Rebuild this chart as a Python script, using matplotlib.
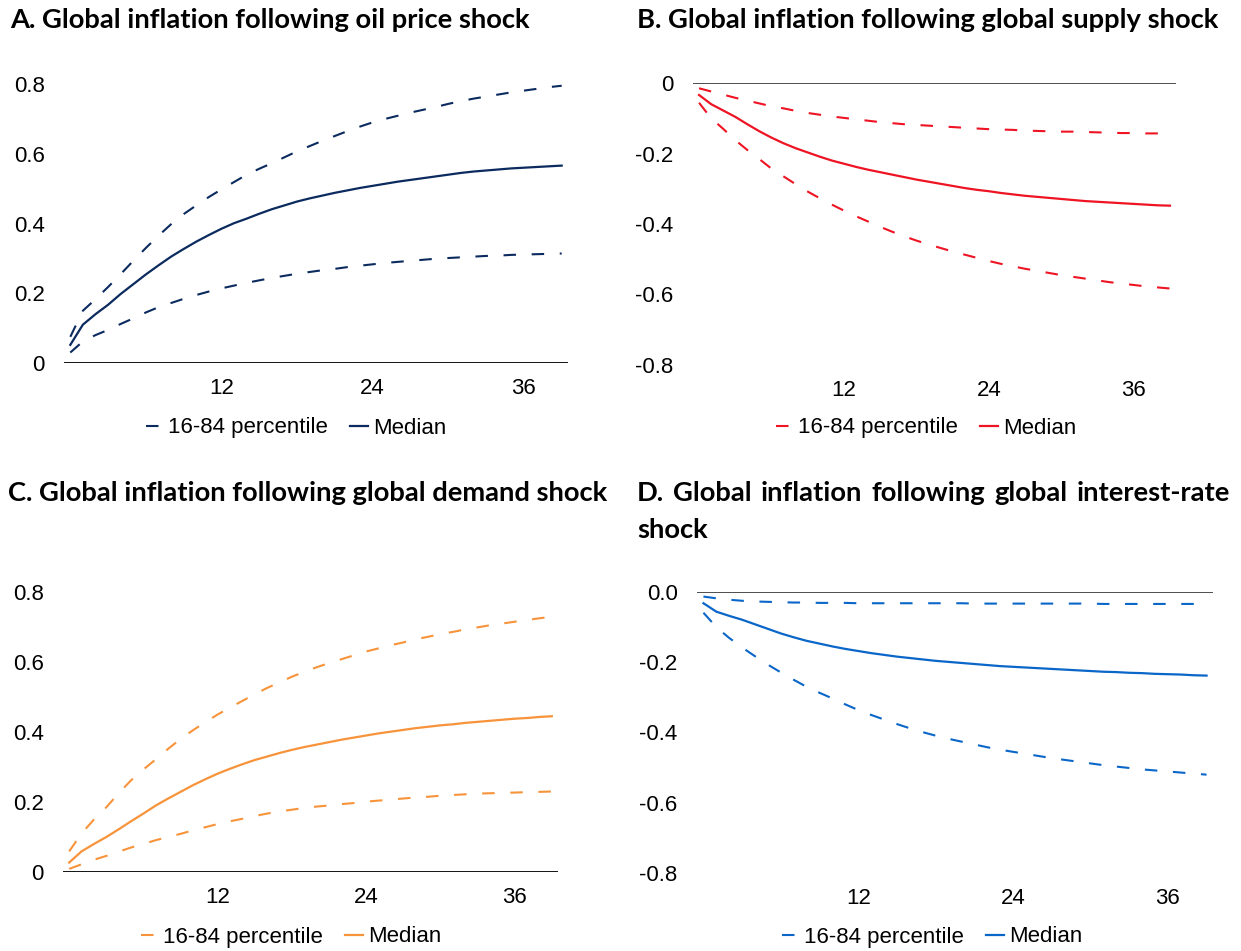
import numpy as np
import matplotlib.pyplot as plt
from matplotlib.lines import Line2D

plt.rcParams['font.family'] = ['Liberation Sans', 'DejaVu Sans']

months = list(range(40))

# A. oil price shock
oil_med = [0.052, 0.11, 0.14, 0.167, 0.198, 0.226, 0.254, 0.28, 0.305, 0.327,
           0.348, 0.367, 0.385, 0.401, 0.414, 0.428, 0.441, 0.452, 0.463, 0.472,
           0.48, 0.488, 0.495, 0.502, 0.508, 0.514, 0.52, 0.525, 0.53, 0.535,
           0.54, 0.545, 0.549, 0.552, 0.555, 0.558, 0.56, 0.562, 0.564, 0.566]
oil_hi = [0.075, 0.15, 0.183, 0.218, 0.255, 0.293, 0.33, 0.365, 0.398, 0.427,
          0.452, 0.476, 0.498, 0.519, 0.54, 0.557, 0.573, 0.59, 0.607, 0.622,
          0.637, 0.651, 0.665, 0.678, 0.69, 0.7, 0.709, 0.718, 0.726, 0.734,
          0.743, 0.751, 0.758, 0.764, 0.77, 0.776, 0.781, 0.786, 0.791, 0.795]
oil_lo = [0.03, 0.062, 0.08, 0.095, 0.112, 0.128, 0.145, 0.16, 0.172, 0.184,
          0.195, 0.205, 0.214, 0.222, 0.23, 0.237, 0.244, 0.25, 0.256, 0.261,
          0.266, 0.27, 0.275, 0.279, 0.283, 0.287, 0.29, 0.293, 0.296, 0.299,
          0.301, 0.303, 0.305, 0.307, 0.308, 0.31, 0.311, 0.312, 0.313, 0.314]

# B. global supply shock
sup_med = [-0.034, -0.06, -0.078, -0.096, -0.117, -0.137, -0.155, -0.171, -0.185, -0.197,
           -0.209, -0.22, -0.229, -0.238, -0.246, -0.253, -0.26, -0.267, -0.274, -0.28,
           -0.286, -0.292, -0.298, -0.303, -0.307, -0.312, -0.316, -0.32, -0.323, -0.326,
           -0.329, -0.332, -0.335, -0.337, -0.339, -0.341, -0.343, -0.345, -0.347, -0.348]
sup_hi = [-0.015, -0.024, -0.033, -0.042, -0.05, -0.058, -0.066, -0.072, -0.079, -0.085,
          -0.09, -0.095, -0.099, -0.103, -0.107, -0.111, -0.114, -0.117, -0.119, -0.121,
          -0.123, -0.125, -0.127, -0.129, -0.131, -0.132, -0.133, -0.135, -0.136, -0.137,
          -0.138, -0.138, -0.139, -0.14, -0.141, -0.142, -0.142, -0.143, -0.143, -0.144]
sup_lo = [-0.056, -0.1, -0.13, -0.162, -0.19, -0.216, -0.243, -0.265, -0.287, -0.308,
          -0.327, -0.345, -0.362, -0.378, -0.393, -0.408, -0.422, -0.435, -0.447, -0.458,
          -0.468, -0.478, -0.487, -0.496, -0.505, -0.513, -0.52, -0.527, -0.533, -0.539,
          -0.545, -0.55, -0.555, -0.56, -0.565, -0.569, -0.573, -0.577, -0.58, -0.583]

# C. global demand shock
dem_med = [0.027, 0.059, 0.08, 0.1, 0.122, 0.145, 0.167, 0.19, 0.21, 0.229,
           0.248, 0.265, 0.281, 0.295, 0.308, 0.32, 0.33, 0.34, 0.349, 0.357,
           0.364, 0.371, 0.378, 0.384, 0.39, 0.396, 0.401, 0.406, 0.411, 0.415,
           0.419, 0.422, 0.426, 0.429, 0.432, 0.435, 0.438, 0.44, 0.443, 0.445]
dem_hi = [0.059, 0.11, 0.15, 0.185, 0.225, 0.262, 0.293, 0.322, 0.352, 0.38,
          0.405, 0.428, 0.45, 0.47, 0.489, 0.508, 0.526, 0.542, 0.558, 0.572,
          0.585, 0.597, 0.608, 0.619, 0.63, 0.639, 0.648, 0.656, 0.665, 0.672,
          0.68, 0.686, 0.693, 0.699, 0.705, 0.71, 0.715, 0.72, 0.725, 0.729]
dem_lo = [0.009, 0.022, 0.035, 0.046, 0.058, 0.07, 0.08, 0.091, 0.1, 0.109,
          0.119, 0.128, 0.137, 0.145, 0.152, 0.16, 0.167, 0.173, 0.178, 0.183,
          0.187, 0.19, 0.194, 0.197, 0.201, 0.204, 0.207, 0.21, 0.213, 0.215,
          0.218, 0.22, 0.222, 0.224, 0.225, 0.226, 0.227, 0.228, 0.229, 0.23]

# D. global interest-rate shock
ir_med = [-0.032, -0.056, -0.068, -0.079, -0.092, -0.105, -0.118, -0.129, -0.139, -0.147,
          -0.155, -0.162, -0.168, -0.174, -0.179, -0.184, -0.188, -0.192, -0.196, -0.199,
          -0.202, -0.205, -0.208, -0.211, -0.213, -0.215, -0.217, -0.219, -0.221, -0.223,
          -0.225, -0.227, -0.228, -0.23, -0.231, -0.233, -0.234, -0.235, -0.237, -0.238]
ir_hi = [-0.013, -0.018, -0.022, -0.025, -0.027, -0.028, -0.029, -0.03, -0.03, -0.031,
         -0.031, -0.031, -0.032, -0.032, -0.032, -0.032, -0.032, -0.032, -0.032, -0.032,
         -0.032, -0.033, -0.033, -0.033, -0.033, -0.033, -0.033, -0.033, -0.033, -0.033,
         -0.033, -0.034, -0.034, -0.034, -0.034, -0.034, -0.034, -0.034, -0.034, -0.034]
ir_lo = [-0.059, -0.1, -0.131, -0.158, -0.183, -0.207, -0.229, -0.25, -0.27, -0.287,
         -0.303, -0.32, -0.336, -0.35, -0.363, -0.376, -0.388, -0.399, -0.409, -0.418,
         -0.426, -0.434, -0.442, -0.449, -0.455, -0.461, -0.467, -0.473, -0.478, -0.483,
         -0.488, -0.493, -0.497, -0.501, -0.505, -0.508, -0.511, -0.514, -0.517, -0.52]

W, H = 1241, 951
fig = plt.figure(figsize=(W / 100, H / 100), dpi=100)
renderer = fig.canvas.get_renderer()

title_kw = dict(fontsize=19.7, fontweight='bold', family=['Lato', 'DejaVu Sans'],
                va='center')


def px_axes(x0, x1, ytop, ybot):
    return fig.add_axes([x0 / W, 1 - ybot / H, (x1 - x0) / W, (ybot - ytop) / H])


def justified(words, x0, x1, y):
    # spread words over the full line width, like a justified paragraph
    texts = [fig.text(0, 1 - y / H, w, ha='left', **title_kw) for w in words]
    widths = [t.get_window_extent(renderer).width for t in texts]
    gap = (x1 - x0 - sum(widths)) / (len(words) - 1)
    x = x0
    for t, w in zip(texts, widths):
        t.set_x(x / W)
        x += w + gap


panels = [
    dict(box=(64, 568, 84, 363), title="A. Global inflation following oil price shock",
         tpos=(10, 20), med=oil_med, hi=oil_hi, lo=oil_lo, color='#0B2A5E', zcol='#000000',
         ylim=(0, 0.8), yticks=[0, 0.2, 0.4, 0.6, 0.8], labels=['0', '0.2', '0.4', '0.6', '0.8'],
         leg=(296, 428)),
    dict(box=(693, 1176, 83, 365), title="B. Global inflation following global supply shock",
         tpos=(637, 20), med=sup_med, hi=sup_hi, lo=sup_lo, color='#EE1423', zcol='#404040',
         ylim=(-0.8, 0), yticks=[0, -0.2, -0.4, -0.6, -0.8],
         labels=['0', '-0.2', '-0.4', '-0.6', '-0.8'], leg=(926, 428)),
    dict(box=(63, 558, 592, 872), title="C. Global inflation following global demand shock",
         tpos=(8, 493), med=dem_med, hi=dem_hi, lo=dem_lo, color='#F7933A', zcol='#000000',
         ylim=(0, 0.8), yticks=[0, 0.2, 0.4, 0.6, 0.8], labels=['0', '0.2', '0.4', '0.6', '0.8'],
         leg=(291, 937)),
    dict(box=(697, 1213, 592, 873), title=None,
         tpos=(637, 493), med=ir_med, hi=ir_hi, lo=ir_lo, color='#0A66C8', zcol='#404040',
         ylim=(-0.8, 0), yticks=[0, -0.2, -0.4, -0.6, -0.8],
         labels=['0.0', '-0.2', '-0.4', '-0.6', '-0.8'], leg=(932, 937)),
]

dash = (0, (6, 7.5))

for p in panels:
    ax = px_axes(*p['box'])
    ax.plot(months, p['hi'], color=p['color'], lw=1.5, ls=dash, clip_on=False)
    ax.plot(months, p['lo'], color=p['color'], lw=1.5, ls=dash, clip_on=False)
    ax.plot(months, p['med'], color=p['color'], lw=1.6, clip_on=False)
    ax.axhline(0, color=p['zcol'], lw=1.3, zorder=1)
    ax.set_xlim(-0.5, 39.5)
    ax.set_ylim(*p['ylim'])
    ax.set_xticks([12, 24, 36])
    ax.set_yticks(p['yticks'])
    ax.set_yticklabels(p['labels'])
    for s in ax.spines.values():
        s.set_visible(False)
    ax.tick_params(axis='both', length=0, labelsize=16, colors='#000000')
    ax.tick_params(axis='y', pad=14)
    ax.tick_params(axis='x', pad=11)

    if p['title']:
        fig.text(p['tpos'][0] / W, 1 - p['tpos'][1] / H, p['title'], ha='left', **title_kw)

    handles = [Line2D([], [], color=p['color'], lw=1.5, ls=dash),
               Line2D([], [], color=p['color'], lw=1.6)]
    fig.legend(handles, ['16-84 percentile', 'Median'], loc='center',
               bbox_to_anchor=(p['leg'][0] / W, 1 - p['leg'][1] / H), ncol=2,
               frameon=False, fontsize=16, handlelength=0.8, handletextpad=0.2,
               columnspacing=1.0, borderaxespad=0, borderpad=0)

justified("D. Global inflation following global interest-rate".split(), 637, 1230, 493)
fig.text(637 / W, 1 - 530 / H, "shock", ha='left', **title_kw)

fig.savefig('out.png', dpi=100)
